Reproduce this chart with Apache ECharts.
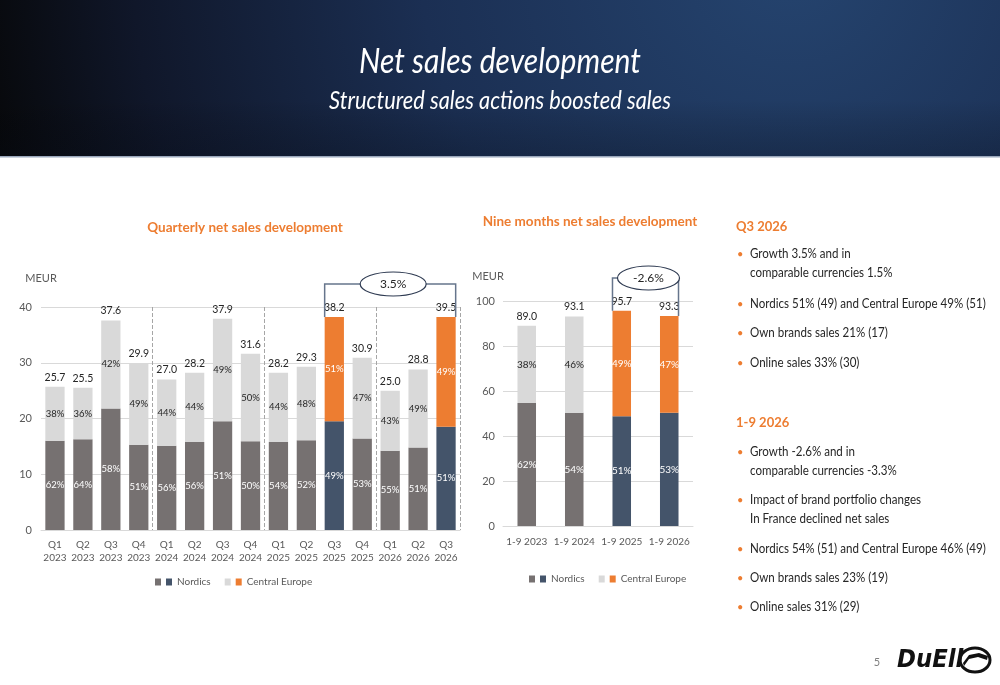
<!DOCTYPE html>
<head>
    <meta charset="UTF-8">
    <title>Net sales development</title>
    <style>
        html, body { margin: 0; padding: 0; background: #fff; }
    </style>
</head>
<body>
<div id="main" style="width:1000px;height:685px"></div>
<script src="https://cdn.jsdelivr.net/npm/echarts@6/dist/echarts.min.js"></script>
<script type="text/javascript">
    // quarterly chart
    var quarters = ['Q1\n2023','Q2\n2023','Q3\n2023','Q4\n2023','Q1\n2024','Q2\n2024','Q3\n2024','Q4\n2024',
                    'Q1\n2025','Q2\n2025','Q3\n2025','Q4\n2025','Q1\n2026','Q2\n2026','Q3\n2026'];
    var quarterTotals   = ['25.7','25.5','37.6','29.9','27.0','28.2','37.9','31.6','28.2','29.3','38.2','30.9','25.0','28.8','39.5'];
    var quarterNordics  = [16.0, 16.3, 21.8, 15.3, 15.1, 15.8, 19.5, 15.9, 15.8, 16.1, 19.5, 16.4, 14.2, 14.8, 18.5];
    var quarterCentral  = [9.7, 9.2, 15.8, 14.6, 11.9, 12.4, 18.4, 15.7, 12.4, 13.2, 18.7, 14.5, 10.8, 14.0, 19.7];
    var quarterNordicsPct = [62, 64, 58, 51, 56, 56, 51, 50, 54, 52, 49, 53, 55, 51, 51];
    var quarterCentralPct = [38, 36, 42, 49, 44, 44, 49, 50, 44, 48, 51, 47, 43, 49, 49];
    var quarterHighlight = [10, 14];
    var quarterTicks = [0, 10, 20, 30, 40];

    // nine months chart
    var periods = ['1-9 2023','1-9 2024','1-9 2025','1-9 2026'];
    var periodTotals   = ['89.0','93.1','95.7','93.3'];
    var periodNordics  = [54.7, 50.3, 48.8, 50.3];
    var periodCentral  = [34.3, 42.8, 46.9, 43.0];
    var periodNordicsPct = [62, 54, 51, 53];
    var periodCentralPct = [38, 46, 49, 47];
    var periodHighlight = [2, 3];
    var periodTicks = [0, 20, 40, 60, 80, 100];

    var growthQuarter = '3.5%';
    var growthPeriod = '-2.6%';

    var GRAY = '#767171', LIGHT = '#d9d9d9', NAVY = '#44546a', ORANGE = '#ed7d31';
    var TXT = '#262626', AXIS_TXT = '#595959';
    var FONT = 'Lato, "Open Sans", sans-serif';

    function withHighlight(values, highlight, color, labelColor) {
        return values.map(function (v, i) {
            if (highlight.indexOf(i) >= 0) {
                var item = { value: v, itemStyle: { color: color } };
                if (labelColor) item.label = { color: labelColor };
                return item;
            }
            return v;
        });
    }

    function zeros(arr) {
        return arr.map(function () { return 0; });
    }

    function pctFormatter(arr) {
        return function (p) { return arr[p.dataIndex] + '%'; };
    }

    function stackSeries(stack, axisIndex, gap, nordics, central, nPct, cPct, totals, highlight, pctSize) {
        return [
            {
                name: 'Nordics', type: 'bar', stack: stack,
                xAxisIndex: axisIndex, yAxisIndex: axisIndex,
                barCategoryGap: gap,
                itemStyle: { color: GRAY },
                label: { show: true, position: 'inside', color: '#fff', fontSize: pctSize, fontFamily: FONT, formatter: pctFormatter(nPct) },
                data: withHighlight(nordics, highlight, NAVY)
            },
            {
                name: 'Central Europe', type: 'bar', stack: stack,
                xAxisIndex: axisIndex, yAxisIndex: axisIndex,
                barCategoryGap: gap,
                itemStyle: { color: LIGHT },
                label: { show: true, position: 'inside', color: TXT, fontSize: pctSize, fontFamily: FONT, formatter: pctFormatter(cPct) },
                data: withHighlight(central, highlight, ORANGE, '#fff')
            },
            {
                name: 'total', type: 'bar', stack: stack, silent: true,
                xAxisIndex: axisIndex, yAxisIndex: axisIndex,
                barCategoryGap: gap,
                itemStyle: { color: 'transparent' },
                label: {
                    show: true, position: 'top', distance: 4, color: TXT, fontSize: 10.5, fontFamily: FONT,
                    formatter: function (p) { return totals[p.dataIndex]; }
                },
                data: zeros(totals)
            }
        ];
    }

    var legendStyle = {
        fontSize: 10, color: AXIS_TXT, fontFamily: FONT,
        rich: {
            n: { width: 6, height: 7, backgroundColor: NAVY },
            c: { width: 6, height: 7, backgroundColor: ORANGE },
            t: { fontSize: 10, color: AXIS_TXT, fontFamily: FONT, padding: [0, 0, 0, 5] }
        }
    };
    function legendFormatter(name) {
        return name === 'Nordics' ? '{n|}{t|Nordics}' : '{c|}{t|Central Europe}';
    }

    // text panel on the right
    var panel = [
        { head: 'Q3 2026', y: 227 },
        { text: ['Growth 3.5% and in', 'comparable currencies 1.5%'], y: 254 },
        { text: ['Nordics 51% (49) and Central Europe 49% (51)'], y: 304 },
        { text: ['Own brands sales 21% (17)'], y: 333 },
        { text: ['Online sales 33% (30)'], y: 363 },
        { head: '1-9 2026', y: 423 },
        { text: ['Growth -2.6% and in', 'comparable currencies -3.3%'], y: 452 },
        { text: ['Impact of brand portfolio changes', 'In France declined net sales'], y: 500 },
        { text: ['Nordics 54% (51) and Central Europe 46% (49)'], y: 549 },
        { text: ['Own brands sales 23% (19)'], y: 578 },
        { text: ['Online sales 31% (29)'], y: 607 }
    ];

    var staticGraphic = [
        {
            type: 'rect', z: -10, silent: true,
            shape: { x: 0, y: 0, width: 1000, height: 157 },
            style: {
                fill: new echarts.graphic.RadialGradient(790, -40, 820, [
                    { offset: 0, color: '#25446f' },
                    { offset: 0.45, color: '#1b2f53' },
                    { offset: 0.8, color: '#10172a' },
                    { offset: 1, color: '#07080a' }
                ], true)
            }
        },
        {
            type: 'rect', z: -9, silent: true,
            shape: { x: 0, y: 100, width: 1000, height: 57 },
            style: {
                fill: new echarts.graphic.LinearGradient(0, 0, 0, 1, [
                    { offset: 0, color: 'rgba(0,0,0,0)' },
                    { offset: 1, color: 'rgba(5,10,20,0.25)' }
                ])
            }
        },
        { type: 'rect', silent: true, shape: { x: 0, y: 156, width: 1000, height: 1.5 }, style: { fill: '#9aa7bb' } },
        {
            type: 'text', x: 500, y: 62, scaleX: 0.86,
            style: { text: 'Net sales development', fill: '#fff', fontSize: 35, fontStyle: 'italic',
                     fontFamily: FONT, align: 'center', verticalAlign: 'middle' }
        },
        {
            type: 'text', x: 500, y: 101, scaleX: 0.84,
            style: { text: 'Structured sales actions boosted sales', fill: '#fff', fontSize: 26, fontStyle: 'italic',
                     fontFamily: FONT, align: 'center', verticalAlign: 'middle' }
        },
        {
            type: 'text', x: 245, y: 228,
            style: { text: 'Quarterly net sales development', fill: ORANGE, fontSize: 13.5, fontWeight: 'bold',
                     fontFamily: FONT, align: 'center', verticalAlign: 'middle' }
        },
        {
            type: 'text', x: 590, y: 222,
            style: { text: 'Nine months net sales development', fill: ORANGE, fontSize: 13.5, fontWeight: 'bold',
                     fontFamily: FONT, align: 'center', verticalAlign: 'middle' }
        },
        {
            type: 'text', x: 877, y: 662,
            style: { text: '5', fill: '#7f7f7f', fontSize: 11, fontFamily: FONT, align: 'center', verticalAlign: 'middle' }
        },
        {
            type: 'text', x: 897, y: 661, scaleX: 0.95,
            style: { text: 'DuEll', fill: '#111', fontSize: 24, fontWeight: 900, fontStyle: 'italic',
                     fontFamily: '"DejaVu Sans", sans-serif', verticalAlign: 'middle' }
        },
        {
            type: 'ellipse', shape: { cx: 975, cy: 660, rx: 15, ry: 12 },
            style: { fill: 'none', stroke: '#111', lineWidth: 3 }
        },
        {
            type: 'polygon', shape: { points: [[963, 663], [969, 655], [979, 653], [988, 656], [987, 660], [978, 657], [969, 659], [964, 666]] },
            style: { fill: '#111' }
        }
    ];

    panel.forEach(function (p) {
        if (p.head) {
            staticGraphic.push({
                type: 'text', x: 736, y: p.y,
                style: { text: p.head, fill: ORANGE, fontSize: 13, fontWeight: 'bold', fontFamily: FONT, verticalAlign: 'middle' }
            });
        } else {
            staticGraphic.push({
                type: 'text', x: 737, y: p.y,
                style: { text: '•', fill: ORANGE, fontSize: 11, fontFamily: FONT, verticalAlign: 'middle' }
            });
            p.text.forEach(function (line, k) {
                staticGraphic.push({
                    type: 'text', x: 750, y: p.y + k * 19, scaleX: 0.89,
                    style: { text: line, fill: TXT, fontSize: 13, fontFamily: FONT, verticalAlign: 'middle' }
                });
            });
        }
    });

    var option = {
        animation: false,
        textStyle: { fontFamily: FONT },
        grid: [
            { left: 41, top: 307, width: 419, height: 223 },
            { left: 503, top: 301, width: 190, height: 225 }
        ],
        legend: [
            { data: ['Nordics', 'Central Europe'], left: 150, top: 572, icon: 'rect', itemWidth: 6, itemHeight: 7,
              itemGap: 14, textStyle: legendStyle, formatter: legendFormatter, selectedMode: false },
            { data: ['Nordics', 'Central Europe'], left: 524, top: 569, icon: 'rect', itemWidth: 6, itemHeight: 7,
              itemGap: 14, textStyle: legendStyle, formatter: legendFormatter, selectedMode: false }
        ],
        xAxis: [
            {
                type: 'category', gridIndex: 0, data: quarters,
                axisLine: { lineStyle: { color: LIGHT } },
                axisTick: { show: false },
                axisLabel: { color: AXIS_TXT, fontSize: 10, lineHeight: 12.5, margin: 9, interval: 0 },
                splitLine: {
                    show: true,
                    interval: function (index) { return index === 4 || index === 8 || index === 12; },
                    lineStyle: { type: 'dashed', color: '#a6a6a6', width: 1 }
                }
            },
            {
                type: 'category', gridIndex: 1, data: periods,
                axisLine: { lineStyle: { color: LIGHT } },
                axisTick: { show: false },
                axisLabel: { color: AXIS_TXT, fontSize: 10, margin: 11, interval: 0 }
            }
        ],
        yAxis: [
            {
                type: 'value', gridIndex: 0, min: quarterTicks[0], max: quarterTicks[quarterTicks.length - 1],
                interval: quarterTicks[1] - quarterTicks[0],
                name: 'MEUR', nameGap: 23, nameTextStyle: { color: AXIS_TXT, fontSize: 11, padding: [0, 0, 0, 0] },
                axisLine: { show: false }, axisTick: { show: false },
                axisLabel: { color: AXIS_TXT, fontSize: 11, margin: 9 },
                splitLine: { lineStyle: { color: LIGHT } }
            },
            {
                type: 'value', gridIndex: 1, min: periodTicks[0], max: periodTicks[periodTicks.length - 1],
                interval: periodTicks[1] - periodTicks[0],
                name: 'MEUR', nameGap: 19, nameTextStyle: { color: AXIS_TXT, fontSize: 11, padding: [0, 30, 0, 0] },
                axisLine: { show: false }, axisTick: { show: false },
                axisLabel: { color: AXIS_TXT, fontSize: 11, margin: 8 },
                splitLine: { lineStyle: { color: LIGHT } }
            }
        ],
        graphic: staticGraphic,
        series: [].concat(
            stackSeries('q', 0, '31%', quarterNordics, quarterCentral, quarterNordicsPct, quarterCentralPct, quarterTotals, quarterHighlight, 9.5),
            stackSeries('p', 1, '61%', periodNordics, periodCentral, periodNordicsPct, periodCentralPct, periodTotals, periodHighlight, 10)
        )
    };

    var myChart = echarts.init(document.getElementById('main'));
    myChart.setOption(option);

    // growth brackets, placed from the bar positions
    function bracket(axisIndex, i1, i2, top1, top2, barRatio, label, rx) {
        var finder = { xAxisIndex: axisIndex, yAxisIndex: axisIndex };
        var a = myChart.convertToPixel(finder, [i1, top1]);
        var b = myChart.convertToPixel(finder, [i2, top2]);
        var band = (b[0] - a[0]) / (i2 - i1);
        var half = band * barRatio / 2;
        var gridTop = myChart.convertToPixel(finder, [i1, option.yAxis[axisIndex].max])[1];
        var yLine = gridTop - 23;
        var x1 = a[0] - half, x2 = b[0] + half;
        var cx = (x1 + x2) / 2 + 3;
        return [
            { type: 'polyline', shape: { points: [[x1, a[1]], [x1, yLine], [x2, yLine], [x2, b[1]]] },
              style: { stroke: '#66758c', lineWidth: 1.5, fill: 'none' }, z: 10 },
            { type: 'ellipse', shape: { cx: cx, cy: yLine, rx: rx, ry: 12 },
              style: { fill: '#fff', stroke: '#2f3b52', lineWidth: 1.2 }, z: 11 },
            { type: 'text', x: cx, y: yLine, z: 12,
              style: { text: label, fill: TXT, fontSize: 12, fontFamily: FONT, align: 'center', verticalAlign: 'middle' } }
        ];
    }

    var q1 = quarterHighlight[0], q2 = quarterHighlight[1];
    var p1 = periodHighlight[0], p2 = periodHighlight[1];
    var extra = [].concat(
        bracket(0, q1, q2, quarterNordics[q1] + quarterCentral[q1], quarterNordics[q2] + quarterCentral[q2], 0.69, growthQuarter, 33),
        bracket(1, p1, p2, periodNordics[p1] + periodCentral[p1], periodNordics[p2] + periodCentral[p2], 0.39, growthPeriod, 31)
    );
    myChart.setOption({ graphic: staticGraphic.concat(extra) });
</script>
</body>
